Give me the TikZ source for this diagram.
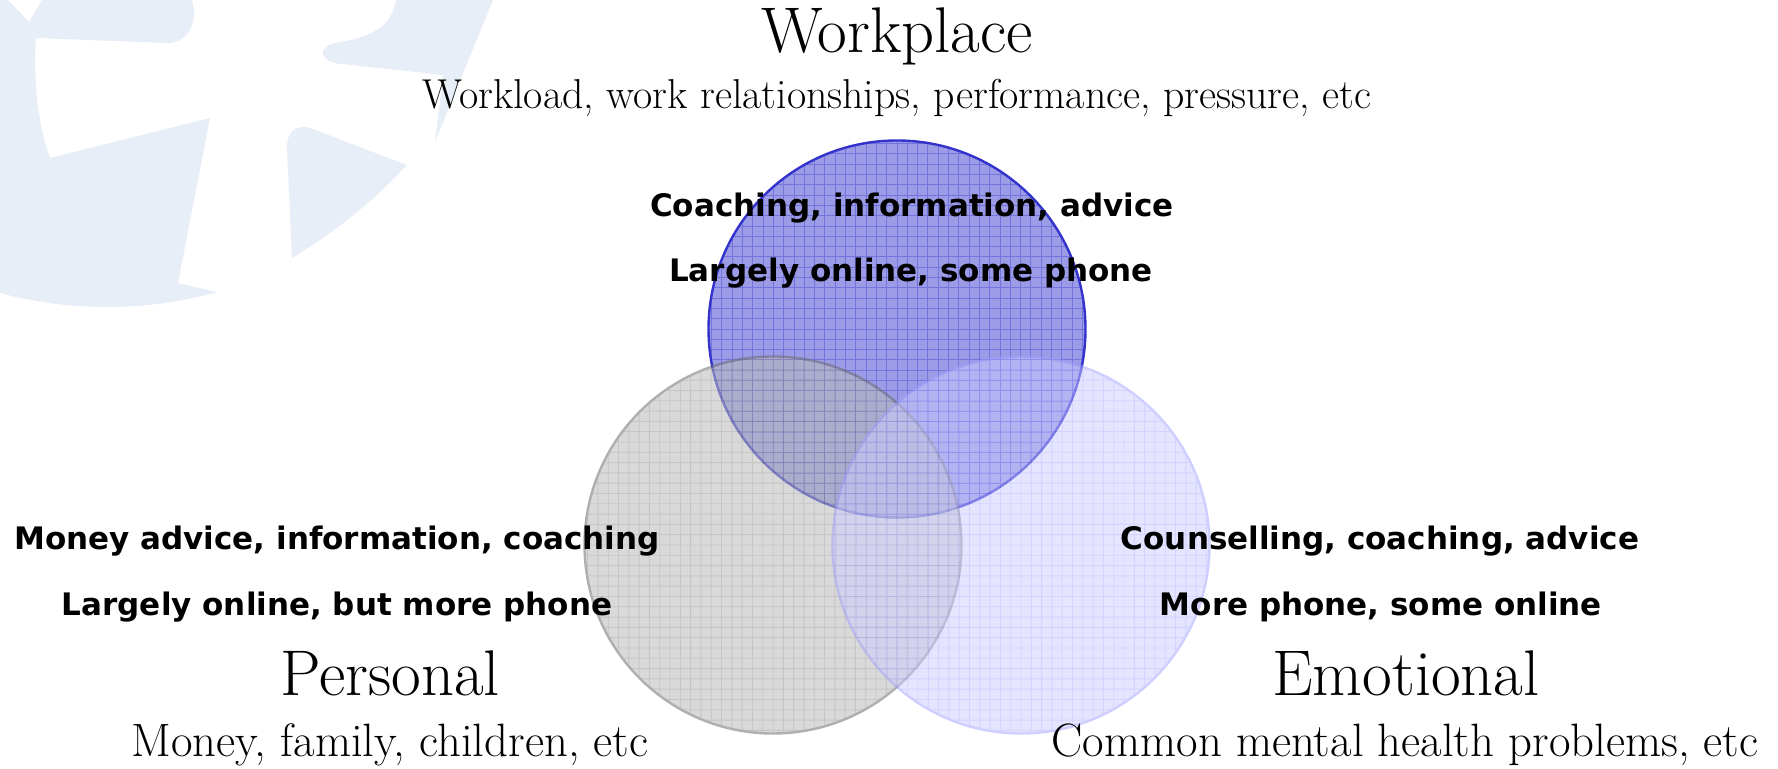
\documentclass[tikz,border=0pt]{standalone}
\usepackage{fontspec}
\newfontfamily\labelsans{DejaVu Sans}
\definecolor{markblue}{RGB}{232,238,247}
\definecolor{workfill}{RGB}{155,155,230}
\definecolor{workgrid}{RGB}{116,116,222}
\definecolor{workline}{RGB}{51,51,204}
\definecolor{persfill}{RGB}{186,186,186}
\definecolor{persgrid}{RGB}{152,152,152}
\definecolor{persline}{RGB}{110,110,110}
\definecolor{emofill}{RGB}{204,204,255}
\definecolor{emogrid}{RGB}{170,170,255}
\definecolor{emoline}{RGB}{160,160,255}
\begin{document}
\begin{tikzpicture}[x=0.5pt,y=-0.5pt,
  title/.style={font=\fontsize{32.3}{36}\selectfont, anchor=base, inner sep=0pt},
  subtitle/.style={font=\fontsize{20.9}{24}\selectfont, anchor=base, inner sep=0pt},
  lowsubtitle/.style={font=\fontsize{23.4}{27}\selectfont, anchor=base, inner sep=0pt},
  service/.style={font=\labelsans\bfseries\fontsize{15.5}{18}\selectfont, anchor=base, inner sep=0pt},
  venn/.style n args={3}{circle, inner sep=0pt, minimum size=188.5pt,
    draw=#1, line width=1.2pt, fill=#2,
    path picture={\draw[#3, line width=0.45pt]
      ([shift={(-100pt,-100pt)}]path picture bounding box.center) grid[step=5.15pt]
      ([shift={(100pt,100pt)}]path picture bounding box.center);}}
]
\useasboundingbox (0,0) rectangle (1778,769);
\fill[white] (0,0) rectangle (1778,769);

% faint logo in the upper left corner
\begin{scope}
  \clip (107,-107) circle[radius=207pt];
  \fill[markblue] (0,0) -- (8,0) -- (29,22) -- (42,0) -- (192,0)
    .. controls (198,20) and (190,42) .. (168,43) -- (36,38)
    .. controls (33,80) and (38,125) .. (50,158) -- (210,118) -- (178,283)
    -- (216,292) -- (216,420) -- (0,420) -- cycle;
  \fill[markblue] (396,0) .. controls (392,22) and (380,36) .. (335,43)
    .. controls (316,47) and (320,63) .. (342,64) -- (443,75) -- (435,142)
    -- (493,0) -- cycle;
  \fill[markblue] (287,150) .. controls (286,128) and (300,122) .. (318,131)
    -- (407,165) .. controls (370,205) and (330,235) .. (292,258) -- cycle;
\end{scope}

% overlapping circles
\node[venn={workline}{workfill}{workgrid}] (work) at (897,329) {};
\begin{scope}[transparency group, opacity=0.55]
  \node[venn={persline}{persfill}{persgrid}] (pers) at (773,545) {};
\end{scope}
\begin{scope}[transparency group, opacity=0.5]
  \node[venn={emoline}{emofill}{emogrid}] (emo) at (1021,545) {};
\end{scope}

% workplace
\node[title] (workT) at (897,53) {Workplace};
\node[subtitle] (workS) at (897,109) {Workload, work relationships, performance, pressure, etc};
\node[service] (workA) at (912,217) {Coaching, information, advice};
\node[service] (workB) at (911,282) {Largely online, some phone};

% personal
\node[service] (persA) at (337,550) {Money advice, information, coaching};
\node[service] (persB) at (337,616) {Largely online, but more phone};
\node[title] (persT) at (390,696) {Personal};
\node[lowsubtitle] (persS) at (390,756) {Money, family, children, etc};

% emotional
\node[service] (emoA) at (1380,550) {Counselling, coaching, advice};
\node[service] (emoB) at (1381,616) {More phone, some online};
\node[title] (emoT) at (1406,696) {Emotional};
\node[lowsubtitle] (emoS) at (1405,756) {Common mental health problems, etc};
\end{tikzpicture}
\end{document}
